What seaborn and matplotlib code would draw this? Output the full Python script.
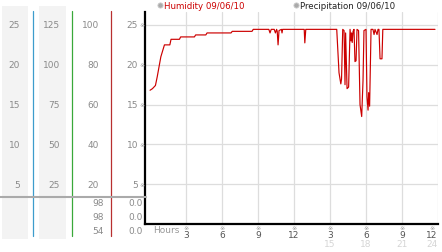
import matplotlib
matplotlib.use("Agg")
import matplotlib.pyplot as plt
import seaborn as sns
import pandas as pd

# ---------------- data ----------------
hours = [0.0, 0.2, 0.45, 0.6, 0.9, 1.2, 1.65, 1.75, 2.45, 2.55, 3.7, 3.8, 4.65, 4.75,
         6.75, 6.85, 8.5, 8.6, 9.9, 10.0, 10.1, 10.35, 10.45, 10.55, 10.6, 10.67, 10.75,
         10.95, 11.0, 11.05, 12.85, 12.9, 12.98, 15.56, 15.75, 15.9, 15.96, 16.06, 16.17,
         16.25, 16.3, 16.42, 16.55, 16.67, 16.75, 16.8, 16.85, 16.92, 17.0, 17.08, 17.17,
         17.25, 17.38, 17.5, 17.64, 17.75, 17.83, 18.0, 18.08, 18.17, 18.22, 18.3, 18.42,
         18.58, 18.67, 18.75, 18.92, 19.0, 19.08, 19.17, 19.33, 19.4, 23.75]
humidity = [16.8, 17.0, 17.4, 18.5, 21.0, 22.5, 22.5, 23.2, 23.2, 23.5, 23.5, 23.75, 23.75, 24.0,
            24.0, 24.2, 24.2, 24.45, 24.45, 24.0, 24.45, 24.45, 24.0, 24.45, 24.2, 22.5, 24.3,
            24.45, 24.0, 24.45, 24.45, 22.75, 24.45, 24.45, 19.0, 17.6, 18.2, 24.45, 24.3,
            17.5, 24.0, 17.0, 17.2, 24.45, 23.0, 24.0, 22.8, 24.2, 24.45, 20.4, 20.5,
            24.45, 24.3, 15.0, 13.5, 18.0, 24.3, 24.45, 16.0, 14.3, 16.5, 14.8, 24.45,
            24.45, 23.8, 24.45, 23.8, 24.45, 24.45, 20.75, 20.75, 24.45, 24.45]

x_ticks = [3, 6, 9, 12, 15, 18, 21, 24]
x_tick_labels = ["3", "6", "9", "12", "3", "6", "9", "12"]
x_day_labels = ["15", "18", "21", "24"]
y_ticks = [5, 10, 15, 20, 25]
col1_labels = ["5", "10", "15", "20", "25"]
col2_labels = ["25", "50", "75", "100", "125"]
col3_labels = ["20", "40", "60", "80", "100"]
col4_labels = ["5", "10", "15", "20", "25"]
col3_current = ["98", "98", "54"]
col4_current = ["0.0", "0.0", "0.0"]
legend_labels = ["Humidity 09/06/10", "Precipitation 09/06/10"]

df = pd.DataFrame({"hour": hours, "humidity": humidity})

# ---------------- figure ----------------
sns.set_style("white")
plt.rcParams["font.family"] = ["DejaVu Sans"]
W, H = 442, 253
fig = plt.figure(figsize=(W / 100, H / 100), dpi=100, facecolor="white")

def fx(px):
    return px / W

def fy(py):
    return 1 - py / H

# main axes: x 145..438 px, y 13..225 px
ax_l, ax_r, ax_t, ax_b = 145, 438, 13, 225
ax = fig.add_axes([fx(ax_l), fy(ax_b), (ax_r - ax_l) / W, (ax_b - ax_t) / H])
ax.set_facecolor("none")

sns.lineplot(data=df, x="hour", y="humidity", ax=ax, color="#cc0000",
             linewidth=0.85, estimator=None, sort=False)

ax.set_xlim(-0.42, 24.0)
ax.set_ylim(0, 26.63)
ax.set_xticks(x_ticks)
ax.set_yticks(y_ticks)
ax.grid(True, color="#dddddd", linewidth=0.9)
ax.set_axisbelow(True)
ax.tick_params(length=0, labelbottom=False, labelleft=False)
ax.set_xlabel("")
ax.set_ylabel("")
for s in ["top", "right"]:
    ax.spines[s].set_visible(False)
for s in ["left", "bottom"]:
    ax.spines[s].set_color("black")
    ax.spines[s].set_linewidth(1.6)

# ---------------- overlay in pixel coordinates ----------------
ov = fig.add_axes([0, 0, 1, 1], zorder=5)
ov.set_xlim(0, W)
ov.set_ylim(H, 0)
ov.axis("off")
ov.patch.set_alpha(0)

ov2 = fig.add_axes([0, 0, 1, 1], zorder=-5)
ov2.set_xlim(0, W)
ov2.set_ylim(H, 0)
ov2.axis("off")

# gray bands
for x0, x1 in [(2, 28), (39, 66)]:
    ov2.fill_between([x0, x1], 7, 240, color="#f3f3f3", linewidth=0)

# colored vertical lines
for xv, c in [(33.3, "#3d9ccc"), (72.3, "#3aa83a"), (111, "#b83030")]:
    ov.plot([xv, xv], [12, 237], color=c, linewidth=0.9)

# horizontal gray divider
ov.plot([0, 146], [197.5, 197.5], color="#aaaaaa", linewidth=1.5)

# y-axis mapping to px
def ypx(v):
    return ax_b - v * (ax_b - ax_t) / 26.63

fs = 6.5
lab_col = "#8a8a8a"
for i, v in enumerate(y_ticks):
    yy = ypx(v)
    ov.text(20, yy, col1_labels[i], ha="right", va="center", fontsize=fs, color=lab_col)
    ov.text(60, yy, col2_labels[i], ha="right", va="center", fontsize=fs, color=lab_col)
    ov.text(99, yy, col3_labels[i], ha="right", va="center", fontsize=fs, color=lab_col)
    ov.text(138, yy, col4_labels[i], ha="right", va="center", fontsize=fs, color=lab_col)
    ov.text(142.5, yy, "\u203b", ha="center", va="center", fontsize=4.5, color="#999999")

for i, (a, b) in enumerate(zip(col3_current, col4_current)):
    yy = [204, 218, 232][i]
    ov.text(104, yy, a, ha="right", va="center", fontsize=fs, color=lab_col)
    ov.text(143, yy, b, ha="right", va="center", fontsize=fs, color=lab_col)

# bottom tick labels
def xpx(h):
    return ax_l + (h + 0.42) * (ax_r - ax_l) / 24.42

ov.text(153, 231, "Hours", ha="left", va="center", fontsize=fs, color="#999999")
for h, lab in zip(x_ticks, x_tick_labels):
    xx = min(xpx(h), 432)
    ov.text(xx, 228.5, "\u203b", ha="center", va="center", fontsize=4.5, color="#999999")
    ov.text(xx, 235.5, lab, ha="center", va="center", fontsize=fs, color="#555555")
for h, lab in zip(x_ticks[4:], x_day_labels):
    xx = min(xpx(h), 432)
    ov.text(xx, 244.5, lab, ha="center", va="center", fontsize=fs, color="#d5d5d5")

# legend
ov.scatter([160, 296], [6, 6], s=14, color="#aaaaaa", edgecolor="#cccccc", linewidth=0.6)
ov.text(164, 6.5, legend_labels[0], ha="left", va="center", fontsize=6.2, color="#cc0000")
ov.text(300, 6.5, legend_labels[1], ha="left", va="center", fontsize=6.2, color="#222222")

fig.savefig("out.png", dpi=100, facecolor="white")
